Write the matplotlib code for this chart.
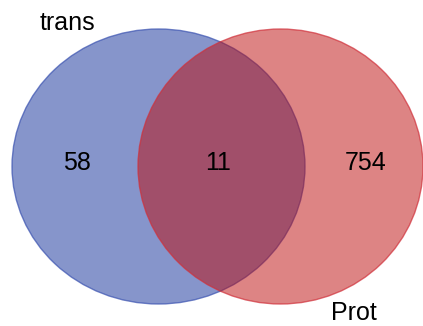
import matplotlib
matplotlib.use("Agg")
import matplotlib.pyplot as plt
from matplotlib.patches import Ellipse

# set names and region counts
set_names = ["trans", "Prot"]
only_counts = [58, 754]
shared_count = 11

fill_colors = ["#0f2d99", "#bd0b0b"]
edge_colors = ["#3a52b0", "#d0303a"]

plt.rcParams["font.family"] = ["Liberation Sans", "DejaVu Sans"]

fig = plt.figure(figsize=(4.23, 3.26), dpi=100)
ax = fig.add_axes([0, 0, 1, 1])
ax.set_xlim(0, 423)
ax.set_ylim(326, 0)
ax.axis("off")

# ellipses in pixel space: (cx, cy, w, h)
shapes = [(158.5, 166.5, 293, 275), (280.5, 166.5, 285, 275)]
for (cx, cy, w, h), fc, ec in zip(shapes, fill_colors, edge_colors):
    ax.add_patch(Ellipse((cx, cy), w, h, facecolor=fc, alpha=0.5, edgecolor="none"))
    ax.add_patch(Ellipse((cx, cy), w, h, fill=False, edgecolor=ec, lw=1.0, alpha=0.7))

fs = 18
ax.text(76.5, 163, str(only_counts[0]), ha="center", va="center", fontsize=fs)
ax.text(218.5, 163, str(shared_count), ha="center", va="center", fontsize=fs)
ax.text(365.5, 163.5, str(only_counts[1]), ha="center", va="center", fontsize=fs)
ax.text(67, 30, set_names[0], ha="center", va="baseline", fontsize=fs)
ax.text(354, 325.5, set_names[1], ha="center", va="bottom", fontsize=fs)

fig.savefig("out.png", dpi=100)
